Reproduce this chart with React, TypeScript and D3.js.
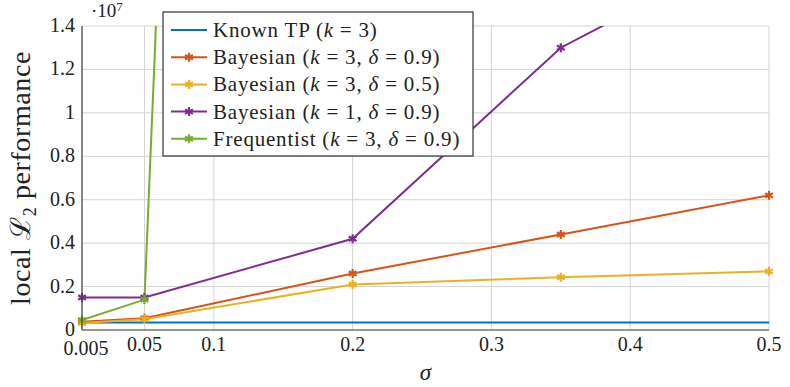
import * as d3 from 'd3';

const W = 790;
const H = 387;
const MARGIN = { top: 26, right: 21, bottom: 57, left: 82 };

const sigma = [0.005, 0.05, 0.2, 0.35, 0.5];
const knownTP = [0.035e7, 0.035e7, 0.035e7, 0.035e7, 0.035e7];
const bayes3_09 = [0.038e7, 0.054e7, 0.26e7, 0.44e7, 0.62e7];
const bayes3_05 = [0.032e7, 0.05e7, 0.21e7, 0.243e7, 0.27e7];
const bayes1_09 = [0.15e7, 0.15e7, 0.42e7, 1.3e7, 1.8e7];
const freq3_09 = [0.046e7, 0.14e7, 23e7, 35e7, 50e7];

const xTicks = [0.005, 0.05, 0.1, 0.2, 0.3, 0.4, 0.5];
const yTicks = [0, 0.2, 0.4, 0.6, 0.8, 1, 1.2, 1.4];

const seriesList = [
  { name: 'Known TP', params: [['k', '3']], values: knownTP, color: '#0072BD', marker: false },
  { name: 'Bayesian', params: [['k', '3'], ['δ', '0.9']], values: bayes3_09, color: '#D95319', marker: true },
  { name: 'Bayesian', params: [['k', '3'], ['δ', '0.5']], values: bayes3_05, color: '#EDB120', marker: true },
  { name: 'Bayesian', params: [['k', '1'], ['δ', '0.9']], values: bayes1_09, color: '#7E2F8E', marker: true },
  { name: 'Frequentist', params: [['k', '3'], ['δ', '0.9']], values: freq3_09, color: '#77AC30', marker: true },
];

const FONT = 'Liberation Serif';

const Star = ({ x, y, color }: { x: number; y: number; color: string }) => {
  const r = 4.5;
  const arms = [90, 30, 150].map((a) => {
    const t = (a * Math.PI) / 180;
    const dx = r * Math.cos(t);
    const dy = r * Math.sin(t);
    return `M${x - dx},${y - dy}L${x + dx},${y + dy}`;
  });
  return <path d={arms.join('')} stroke={color} strokeWidth={2.2} fill="none" />;
};

const App = () => {
  const boundsWidth = W - MARGIN.left - MARGIN.right;
  const boundsHeight = H - MARGIN.top - MARGIN.bottom;

  const xScale = d3.scaleLinear().domain([0.005, 0.5]).range([0, boundsWidth]);
  const yScale = d3.scaleLinear().domain([0, 1.4e7]).range([boundsHeight, 0]);

  const lineGenerator = d3
    .line<number>()
    .x((_, i) => xScale(sigma[i]))
    .y((d) => yScale(d));

  // legend layout
  const lgX = 163 - MARGIN.left;
  const lgY = 12 - MARGIN.top;
  const lgW = 310;
  const lgH = 144;
  const rowH = 27.2;

  return (
    <svg width={W} height={H} style={{ position: 'absolute', left: 0, top: 0 }}>
      <defs>
        <clipPath id="plot-clip">
          <rect x={0} y={0} width={boundsWidth} height={boundsHeight} />
        </clipPath>
      </defs>
      <rect width={W} height={H} fill="white" />
      <g transform={`translate(${MARGIN.left},${MARGIN.top})`} fontFamily={FONT}>
        {/* grid */}
        {xTicks.map((t) => (
          <line key={'gx' + t} x1={xScale(t)} x2={xScale(t)} y1={0} y2={boundsHeight} stroke="#d4d4d4" strokeWidth={1} />
        ))}
        {yTicks.map((t) => (
          <line key={'gy' + t} x1={0} x2={boundsWidth} y1={yScale(t * 1e7)} y2={yScale(t * 1e7)} stroke="#d4d4d4" strokeWidth={1} />
        ))}

        {/* lines */}
        <g clipPath="url(#plot-clip)">
          {seriesList.map((s, i) => (
            <path key={'l' + i} d={lineGenerator(s.values) || ''} stroke={s.color} strokeWidth={2} fill="none" />
          ))}
        </g>
        {seriesList.map((s, i) =>
          s.marker
            ? s.values.map((v, j) =>
                v <= 1.4e7 ? <Star key={'m' + i + '-' + j} x={xScale(sigma[j])} y={yScale(v)} color={s.color} /> : null
              )
            : null
        )}

        {/* axes */}
        <line x1={0} x2={0} y1={0} y2={boundsHeight} stroke="#444" strokeWidth={1.2} />
        <line x1={0} x2={boundsWidth} y1={boundsHeight} y2={boundsHeight} stroke="#444" strokeWidth={1.2} />

        {/* tick labels */}
        {xTicks.map((t) => (
          <text
            key={'xt' + t}
            x={xScale(t) + (t === 0.005 ? 4 : 0)}
            y={boundsHeight + 21 + (t === 0.005 ? 4 : 0)}
            textAnchor="middle"
            fontSize={20}
            fontFamily={FONT}
            fill="#222"
          >
            {String(t)}
          </text>
        ))}
        {yTicks.map((t) => (
          <text key={'yt' + t} x={-7} y={yScale(t * 1e7) + 6} textAnchor="end" fontSize={20} fontFamily={FONT} fill="#222">
            {String(t)}
          </text>
        ))}
        <text x={9} y={-9} fontSize={19} fontFamily={FONT} fill="#222">
          ·10
          <tspan fontSize={13} dy={-6}>7</tspan>
        </text>

        {/* axis labels */}
        <text x={boundsWidth / 2} y={boundsHeight + 50} textAnchor="middle" fontSize={23} fontStyle="italic" fontFamily={FONT} fill="#222">
          σ
        </text>
        <text
          transform={`translate(${30 - MARGIN.left},${boundsHeight / 2}) rotate(-90)`}
          textAnchor="middle"
          fontSize={28}
          letterSpacing={0.6}
          fontFamily={FONT}
          fill="#222"
        >
          local <tspan fontFamily="DejaVu Serif">ℒ</tspan>
          <tspan fontSize={18} dy={6}>2</tspan>
          <tspan dy={-6}> performance</tspan>
        </text>

        {/* legend */}
        <g transform={`translate(${lgX},${lgY})`}>
          <rect x={0} y={0} width={lgW} height={lgH} fill="white" stroke="#333" strokeWidth={1.2} />
          {seriesList.map((s, i) => {
            const cy = 18 + i * rowH;
            return (
              <g key={'lg' + i}>
                <line x1={8} x2={44} y1={cy} y2={cy} stroke={s.color} strokeWidth={2} />
                {s.marker && <Star x={26} y={cy} color={s.color} />}
                <text x={50} y={cy + 7} fontSize={21} letterSpacing={0.8} fontFamily={FONT} fill="#222">
                  {s.name} (
                  {s.params.map((p, k) => (
                    <tspan key={k}>
                      <tspan fontStyle="italic">{p[0]}</tspan>
                      {' = ' + p[1] + (k < s.params.length - 1 ? ', ' : '')}
                    </tspan>
                  ))}
                  )
                </text>
              </g>
            );
          })}
        </g>
      </g>
    </svg>
  );
};

export default App;
